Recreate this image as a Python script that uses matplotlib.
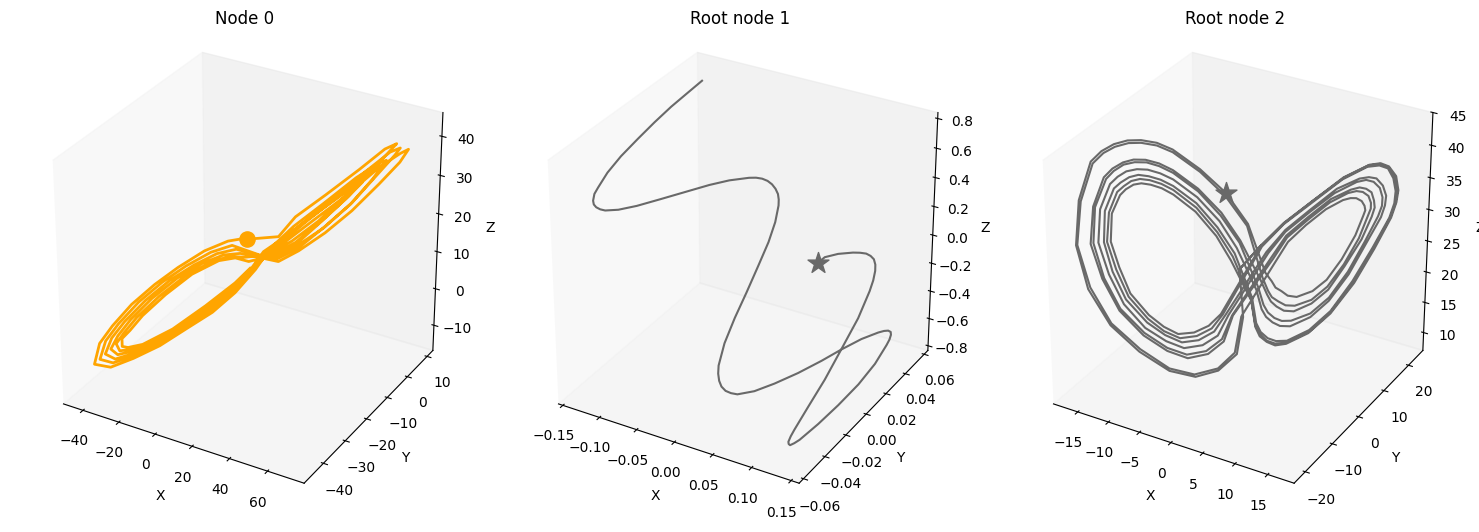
#!/usr/bin/env python
"""Three 3D trajectory panels: Node 0, Root node 1, Root node 2."""
import matplotlib
matplotlib.use("Agg")
import matplotlib.pyplot as plt

# ---- Node 0 ----
node0_x = [
    13.6, 8.1, -2.8, -14.9, -25.8, -31.2, -33.4, -33.4, -30.4, -25.6, -17.1, -7.5, 2.2, 8.3, 13.1,
    20.3, 29.9, 39.5, 48.1, 54.0, 46.8, 36.0, 26.3, 18.4,
    14.0, 8.1, -2.3, -13.9, -24.6, -30.8, -34.3, -35.5, -32.6, -27.8, -19.6, -10.2, -0.7, 6.1, 11.6,
    19.7, 28.7, 38.3, 48.1, 56.5, 60.1, 55.3, 45.6, 34.7, 25.1, 17.8,
    14.4, 8.1, -1.8, -12.9, -23.3, -30.5, -35.1, -37.5, -34.8, -30.0, -22.1, -12.9, -3.7, 3.9, 10.0,
    23.9, 31.2, 40.8, 50.4, 60.1, 67.4, 70.4, 67.4, 60.1, 48.1, 36.0, 26.3, 19.1,
    14.7, 8.1, -1.3, -12.0, -22.1, -30.1, -36.0, -39.6, -37.1, -32.2, -24.5, -15.6, -6.6, 1.6, 8.6,
    22.7, 31.2, 40.8, 50.4, 60.1, 65.5, 67.4, 63.8, 55.3, 43.2, 31.2, 22.7, 16.6,
    15.1, 8.1, -0.8, -11.0, -20.8, -29.8, -36.9, -41.6, -39.3, -34.4, -27.0, -18.3, -9.6, -0.6, 7.1,
    21.5, 30.5, 40.2, 49.8, 57.7, 62.5, 59.5, 51.7, 40.2, 29.3, 20.9,
    15.5, 8.1, -0.3, -10.0, -19.6, -29.4, -37.8, -43.7, -41.5, -36.6, -29.5, -21.0, -12.5, -2.9, 5.6, 13.0,
    15.4, 23.9, 29.9, 40.8, 52.9, 61.9, 66.1, 64.4, 59.0, 49.2, 39.5, 29.9, 20.9,
]
node0_y = [
    -18.0, -20.2, -24.5, -29.3, -33.8, -35.9, -36.7, -36.7, -35.5, -33.7, -30.3, -26.4, -22.5, -20.2, -18.2,
    -15.2, -11.4, -7.6, -4.1, -1.8, -4.6, -9.0, -12.9, -16.0,
    -17.8, -20.2, -24.3, -28.9, -33.3, -35.7, -37.1, -37.6, -36.4, -34.5, -31.3, -27.4, -23.7, -21.0, -18.8,
    -15.5, -11.9, -8.1, -4.1, -0.8, 0.6, -1.3, -5.1, -9.6, -13.4, -16.2,
    -17.6, -20.2, -24.1, -28.5, -32.8, -35.6, -37.4, -38.4, -37.3, -35.4, -32.3, -28.5, -24.9, -21.9, -19.4,
    -13.9, -10.9, -7.1, -3.2, 0.6, 3.6, 4.8, 3.6, 0.6, -4.1, -9.0, -12.9, -15.7,
    -17.5, -20.2, -23.9, -28.2, -32.3, -35.4, -37.8, -39.2, -38.2, -36.3, -33.2, -29.6, -26.1, -22.8, -20.0,
    -14.3, -10.9, -7.1, -3.2, 0.6, 2.8, 3.6, 2.1, -1.3, -6.1, -10.9, -14.3, -16.7,
    -17.4, -20.2, -23.7, -27.8, -31.8, -35.3, -38.1, -40.0, -39.1, -37.2, -34.2, -30.7, -27.3, -23.7, -20.6,
    -14.8, -11.2, -7.3, -3.5, -0.3, 1.6, 0.4, -2.7, -7.3, -11.7, -15.0,
    -17.2, -20.2, -23.5, -27.4, -31.3, -35.1, -38.5, -40.8, -40.0, -38.1, -35.2, -31.8, -28.4, -24.6, -21.2, -18.2,
    -17.2, -13.9, -11.4, -7.1, -2.3, 1.3, 3.0, 2.3, 0.2, -3.7, -7.6, -11.4, -15.0,
]
node0_z = [
    12.3, 8.8, 3.4, -2.0, -5.3, -5.8, -5.4, -3.3, -1.3, 2.4, 7.4, 12.1, 15.0, 15.4, 14.1,
    14.9, 17.9, 23.0, 28.1, 32.0, 29.3, 24.4, 19.7, 16.3,
    12.2, 8.3, 3.0, -2.1, -5.5, -6.4, -6.5, -4.5, -1.8, 2.0, 7.0, 11.7, 14.8, 15.9, 15.3,
    15.4, 18.4, 23.0, 29.0, 34.4, 36.0, 34.1, 29.0, 23.6, 18.5, 15.5,
    12.1, 7.8, 2.6, -2.1, -5.6, -7.0, -7.5, -5.8, -2.4, 1.6, 6.7, 11.4, 14.7, 16.4, 16.4,
    13.4, 15.7, 19.8, 24.9, 31.2, 36.3, 39.4, 38.5, 35.5, 28.9, 23.1, 18.4, 15.0,
    12.0, 7.2, 2.3, -2.2, -5.8, -7.7, -8.6, -7.0, -2.9, 1.2, 6.3, 11.0, 14.5, 16.9, 17.6,
    13.9, 16.5, 21.5, 27.0, 34.2, 38.2, 39.9, 39.1, 34.8, 28.3, 22.1, 17.8, 14.3,
    11.9, 6.7, 1.9, -2.2, -5.9, -8.3, -9.6, -8.3, -3.5, 0.8, 6.0, 10.7, 14.4, 17.4, 18.7,
    14.1, 17.0, 21.1, 26.6, 32.6, 37.1, 36.4, 33.3, 27.5, 22.2, 17.0,
    11.8, 6.2, 1.5, -2.3, -6.1, -8.9, -10.7, -9.5, -4.0, 0.4, 5.6, 10.3, 14.2, 17.9, 19.9, 20.3,
    19.9, 19.9, 24.6, 29.6, 35.4, 40.0, 41.1, 39.9, 36.0, 28.8, 22.9, 17.3, 14.5,
]
node0_start = (12.6, -18.4, 19.9)

# ---- Root node 1 ----
root1_x = [
    -0.1110, -0.1201, -0.1306, -0.1405, -0.1499, -0.1592, -0.1655, -0.1685, -0.1695, -0.1678, -0.1655, -0.1620,
    -0.1572, -0.1519, -0.1393, -0.1230, -0.1030, -0.0802, -0.0604, -0.0428, -0.0244, -0.0176, -0.0112, -0.0050,
    0.0007, 0.0060, 0.0105, 0.0135, 0.0158, 0.0192, 0.0206, 0.0201, 0.0194, 0.0181, 0.0183, 0.0214, 0.0243,
    0.0280, 0.0326, 0.0382, 0.0443, 0.0509, 0.0660, 0.0824, 0.1010, 0.1190, 0.1339, 0.1492, 0.1629, 0.1680,
    0.1719, 0.1747, 0.1761, 0.1765, 0.1758, 0.1718, 0.1636, 0.1522, 0.1400, 0.1283, 0.1245, 0.1212, 0.1194,
    0.1183, 0.1185, 0.1195, 0.1238, 0.1294, 0.1337, 0.1379, 0.1386, 0.1378, 0.1361, 0.1337, 0.1303, 0.1258,
    0.1206, 0.1142, 0.1073, 0.0933, 0.0816, 0.0767,
]
root1_y = [
    0.0379, 0.0310, 0.0230, 0.0146, 0.0059, -0.0031, -0.0110, -0.0174, -0.0200, -0.0223, -0.0232, -0.0234,
    -0.0231, -0.0222, -0.0189, -0.0134, -0.0061, 0.0023, 0.0097, 0.0157, 0.0211, 0.0228, 0.0240, 0.0246,
    0.0247, 0.0242, 0.0233, 0.0219, 0.0201, 0.0146, 0.0074, -0.0016, -0.0120, -0.0218, -0.0313, -0.0388, -0.0412,
    -0.0429, -0.0440, -0.0442, -0.0436, -0.0424, -0.0376, -0.0308, -0.0224, -0.0136, -0.0057, 0.0018, 0.0075, 0.0093,
    0.0104, 0.0107, 0.0099, 0.0082, 0.0060, -0.0020, -0.0115, -0.0220, -0.0319, -0.0405, -0.0427, -0.0441, -0.0441,
    -0.0436, -0.0416, -0.0389, -0.0295, -0.0181, -0.0055, 0.0069, 0.0172, 0.0212, 0.0243, 0.0262, 0.0273, 0.0275,
    0.0271, 0.0259, 0.0243, 0.0204, 0.0163, 0.0134,
]
root1_z = [
    0.845, 0.790, 0.726, 0.655, 0.580, 0.501, 0.427, 0.359, 0.330, 0.300, 0.283, 0.270,
    0.261, 0.255, 0.258, 0.274, 0.303, 0.337, 0.366, 0.386, 0.397, 0.397, 0.392, 0.382,
    0.366, 0.346, 0.322, 0.297, 0.270, 0.195, 0.105, 0.000, -0.119, -0.232, -0.343, -0.441, -0.476,
    -0.508, -0.533, -0.552, -0.562, -0.568, -0.555, -0.523, -0.478, -0.425, -0.376, -0.331, -0.303, -0.296,
    -0.295, -0.302, -0.314, -0.335, -0.359, -0.441, -0.531, -0.620, -0.702, -0.769, -0.783, -0.792, -0.787,
    -0.777, -0.753, -0.724, -0.627, -0.508, -0.373, -0.239, -0.119, -0.072, -0.029, -0.002, 0.023, 0.038,
    0.049, 0.053, 0.054, 0.049, 0.035, 0.007,
]
root1_star = (0.0767, 0.0134, 0.007)

# ---- Root node 2 ----
root2_x = [
    2.1, -0.2,
    0.2, -0.5, -2.5, -5.0, -7.8, -11.0, -14.0, -16.2, -17.3, -16.9, -15.5, -14.4, -13.1, -11.7, -10.3, -8.7, -7.1, -4.3, -1.6, 0.7,
    2.6, 3.3, 3.7, 4.3, 5.0, 6.0, 7.7, 9.2, 10.8, 12.2, 13.0, 13.2, 13.1, 12.8, 12.2, 11.6, 10.8, 9.0, 6.9, 5.0, 3.6,
    0.0, -0.7, -2.5, -5.1, -7.8, -10.9, -13.9, -16.0, -17.2, -16.7, -15.3, -14.2, -13.0, -11.6, -10.3, -8.7, -7.1, -4.3, -1.7, 0.6,
    2.3, 2.9, 3.3, 4.0, 4.8, 5.8, 7.6, 9.3, 11.0, 12.6, 13.5, 13.8, 13.8, 13.5, 12.9, 12.2, 11.3, 9.4, 7.1, 4.9, 3.4,
    -0.9, -1.9, -3.6, -5.8, -8.0, -10.5, -13.0, -14.7, -15.8, -15.4, -14.2, -13.3, -12.2, -11.1, -9.9, -8.5, -7.1, -4.5, -2.1, -0.1,
    2.1, 2.8, 3.2, 3.8, 4.6, 5.7, 7.6, 9.4, 11.1, 12.9, 13.9, 14.2, 14.1, 13.8, 13.2, 12.5, 11.6, 9.5, 7.1, 4.8, 3.2,
    -1.0, -2.1, -3.8, -5.9, -8.0, -10.4, -12.9, -14.5, -15.5, -15.2, -14.0, -13.2, -12.2, -11.0, -9.8, -8.5, -7.1, -4.5, -2.2, -0.2,
    1.8, 2.4, 2.9, 3.6, 4.4, 5.4, 7.5, 9.5, 11.5, 13.2, 14.6, 15.0, 15.0, 14.7, 14.0, 13.2, 12.2, 9.9, 7.3, 4.7, 2.9,
    -1.4, -2.5, -4.2, -6.2, -8.1, -10.3, -12.5, -14.0, -15.0, -14.7, -13.6, -12.8, -11.9, -10.8, -9.7, -8.4, -7.1, -4.6, -2.3, -0.5,
    1.6, 2.2, 2.7, 3.4, 4.2, 5.3, 7.5, 9.5, 11.6, 13.4, 14.9, 15.3, 15.4, 15.0, 14.3, 13.5, 12.5, 10.1, 7.3, 4.7, 2.7,
    -1.7, -2.9, -4.6, -6.4, -8.2, -10.1, -12.3, -13.6, -14.4, -14.2, -13.2, -12.5, -11.6, -10.7, -9.6, -8.4, -7.1, -4.7, -2.5, -0.7,
    1.2, 1.6, 2.1, 2.9, 3.8, 5.0, 7.4, 9.7, 12.0, 14.1, 15.8, 16.3, 16.4, 16.1, 15.5, 14.6, 13.3, 10.7, 7.6, 4.5, 2.2,
    -2.0, -3.2, -4.8, -6.6, -8.3, -10.0, -12.0, -13.2, -14.1, -13.8, -12.9, -12.2, -11.4, -10.5, -9.5, -8.3, -7.1, -4.7, -2.5, -0.9,
    1.1, 1.5, 2.0, 2.8, 3.7, 4.9, 7.4, 9.7, 12.1, 14.2, 15.9, 16.4, 16.6, 16.3, 15.6, 14.6, 13.4, 10.8, 7.6, 4.5, 2.1,
    -2.2, -3.5, -5.1, -6.8, -8.3, -9.9, -11.8, -12.9, -13.7, -13.5, -12.6, -12.0, -11.2, -10.4, -9.4, -8.3, -7.1, -4.8, -2.6, -1.1,
    1.1, 1.5, 2.0, 2.8, 3.7, 4.9, 7.3, 9.7, 12.2, 14.3, 16.0, 16.5, 16.7, 16.4, 15.6, 14.7, 13.5, 10.8, 7.7, 4.5, 2.1, -0.2,
]
root2_y = [
    3.3, 0.8,
    1.2, 0.5, -1.8, -4.5, -7.6, -11.1, -14.4, -16.9, -18.1, -17.5, -16.1, -14.8, -13.4, -11.9, -10.4, -8.6, -6.8, -3.7, -0.8, 1.8,
    3.8, 4.5, 5.0, 5.8, 6.5, 7.5, 9.4, 11.1, 12.8, 14.4, 15.3, 15.5, 15.4, 15.0, 14.4, 13.7, 12.8, 10.8, 8.5, 6.4, 5.0,
    1.0, 0.2, -1.9, -4.6, -7.6, -11.0, -14.3, -16.6, -17.9, -17.3, -15.9, -14.6, -13.3, -11.8, -10.4, -8.6, -6.8, -3.7, -0.9, 1.7,
    3.5, 4.1, 4.6, 5.4, 6.2, 7.3, 9.3, 11.2, 13.2, 14.8, 15.8, 16.1, 16.1, 15.8, 15.1, 14.4, 13.4, 11.3, 8.7, 6.3, 4.7,
    0.0, -1.1, -3.0, -5.4, -7.8, -10.6, -13.3, -15.2, -16.4, -16.0, -14.7, -13.7, -12.5, -11.3, -9.9, -8.4, -6.8, -4.0, -1.3, 0.9,
    3.3, 4.0, 4.5, 5.2, 6.1, 7.2, 9.3, 11.3, 13.2, 15.1, 16.3, 16.6, 16.5, 16.2, 15.6, 14.8, 13.7, 11.4, 8.7, 6.2, 4.4,
    -0.1, -1.3, -3.2, -5.5, -7.8, -10.5, -13.2, -15.0, -16.1, -15.8, -14.4, -13.5, -12.3, -11.2, -9.8, -8.4, -6.8, -4.0, -1.4, 0.8,
    3.0, 3.6, 4.1, 4.9, 5.8, 6.9, 9.2, 11.4, 13.6, 15.6, 17.0, 17.4, 17.5, 17.1, 16.4, 15.5, 14.4, 11.8, 9.0, 6.1, 4.1,
    -0.5, -1.9, -3.6, -5.8, -7.9, -10.4, -12.8, -14.4, -15.5, -15.2, -14.0, -13.1, -12.1, -10.9, -9.7, -8.3, -6.8, -4.1, -1.5, 0.5,
    2.8, 3.4, 3.9, 4.7, 5.6, 6.8, 9.2, 11.4, 13.7, 15.7, 17.4, 17.8, 17.9, 17.5, 16.7, 15.8, 14.7, 12.1, 9.0, 6.1, 3.9,
    -0.9, -2.3, -4.1, -6.1, -8.0, -10.1, -12.5, -14.0, -14.9, -14.7, -13.6, -12.8, -11.8, -10.7, -9.6, -8.2, -6.8, -4.2, -1.8, 0.2,
    2.2, 2.8, 3.3, 4.1, 5.1, 6.4, 9.1, 11.6, 14.2, 16.5, 18.4, 18.9, 19.0, 18.7, 18.0, 16.9, 15.6, 12.7, 9.3, 6.0, 3.4,
    -1.2, -2.5, -4.3, -6.3, -8.2, -10.0, -12.2, -13.6, -14.5, -14.2, -13.2, -12.4, -11.6, -10.6, -9.5, -8.2, -6.8, -4.2, -1.9, 0.0,
    2.1, 2.7, 3.2, 4.0, 5.0, 6.3, 9.1, 11.6, 14.3, 16.6, 18.5, 19.1, 19.2, 18.9, 18.0, 17.0, 15.7, 12.8, 9.3, 6.0, 3.3,
    -1.4, -2.9, -4.6, -6.5, -8.2, -9.9, -12.0, -13.2, -14.1, -13.9, -12.9, -12.2, -11.3, -10.4, -9.4, -8.1, -6.8, -4.3, -2.0, -0.2,
    2.1, 2.7, 3.2, 4.0, 5.0, 6.3, 9.0, 11.6, 14.4, 16.7, 18.6, 19.2, 19.3, 19.0, 18.1, 17.1, 15.8, 12.8, 9.4, 6.0, 3.3, 0.8,
]
root2_z = [
    28.0, 24.5,
    16.8, 10.8, 8.4, 7.7, 9.1, 12.7, 17.4, 23.5, 30.5, 37.3, 43.0, 44.4, 45.3, 45.7, 45.6, 45.0, 43.8, 40.5, 36.6, 31.5,
    23.6, 22.2, 21.1, 20.4, 19.6, 19.3, 20.0, 21.6, 24.7, 28.3, 31.3, 32.1, 32.8, 33.6, 34.1, 34.2, 34.0, 32.8, 30.6, 28.2, 25.1,
    16.9, 11.1, 8.8, 8.1, 9.5, 13.1, 17.7, 23.7, 30.5, 37.1, 42.7, 44.1, 44.9, 45.3, 45.2, 44.6, 43.4, 40.1, 36.2, 31.2,
    22.8, 20.7, 19.6, 18.8, 18.1, 17.9, 18.6, 20.5, 23.8, 27.8, 31.2, 32.3, 33.2, 34.3, 35.0, 35.2, 35.0, 33.8, 31.4, 28.9, 25.7,
    17.2, 13.1, 11.3, 10.9, 12.4, 15.3, 19.6, 24.9, 30.5, 36.2, 40.5, 41.7, 42.5, 42.8, 42.6, 41.9, 40.7, 37.6, 33.6, 29.0,
    22.4, 20.1, 18.9, 18.0, 17.2, 17.0, 18.0, 20.0, 23.5, 27.6, 31.0, 32.4, 33.5, 34.8, 35.4, 35.7, 35.5, 34.3, 31.8, 29.2, 25.9,
    17.2, 13.5, 11.8, 11.5, 12.9, 15.7, 19.9, 25.0, 30.6, 36.1, 40.2, 41.3, 42.1, 42.4, 42.2, 41.5, 40.3, 37.2, 33.2, 28.7,
    21.4, 18.5, 17.2, 16.2, 15.6, 15.5, 16.4, 18.7, 22.6, 27.1, 31.0, 32.6, 33.9, 35.4, 36.4, 36.8, 36.6, 35.2, 32.6, 29.8, 26.7,
    17.3, 14.2, 12.8, 12.6, 14.0, 16.5, 20.6, 25.5, 30.6, 35.7, 39.4, 40.4, 41.1, 41.3, 41.1, 40.4, 39.3, 36.3, 32.3, 27.9,
    21.0, 17.8, 16.5, 15.5, 14.8, 14.6, 15.8, 18.2, 22.2, 26.9, 30.8, 32.6, 34.1, 35.7, 36.9, 37.2, 37.1, 35.8, 32.9, 30.1, 26.9,
    17.4, 14.9, 13.7, 13.6, 15.0, 17.3, 21.3, 25.9, 30.6, 35.4, 38.7, 39.5, 40.2, 40.4, 40.1, 39.4, 38.3, 35.4, 31.4, 27.1,
    19.8, 15.6, 14.1, 13.0, 12.4, 12.3, 13.7, 16.5, 21.0, 26.1, 30.6, 32.8, 34.7, 36.7, 38.3, 38.9, 38.8, 37.2, 34.1, 31.0, 27.8,
    17.5, 15.4, 14.4, 14.3, 15.7, 17.9, 21.7, 26.2, 30.6, 35.1, 38.1, 38.9, 39.6, 39.8, 39.5, 38.8, 37.7, 34.7, 30.7, 26.6,
    19.5, 15.3, 13.8, 12.6, 12.0, 12.0, 13.4, 16.3, 20.8, 26.0, 30.6, 32.8, 34.7, 36.8, 38.5, 39.1, 39.0, 37.4, 34.3, 31.1, 27.9,
    17.6, 15.9, 15.0, 15.0, 16.4, 18.5, 22.2, 26.5, 30.6, 34.9, 37.6, 38.4, 39.0, 39.1, 38.8, 38.1, 37.0, 34.1, 30.1, 26.0,
    19.4, 15.0, 13.4, 12.4, 11.7, 11.8, 13.2, 16.1, 20.7, 25.9, 30.6, 32.9, 34.8, 37.0, 38.6, 39.2, 39.1, 37.5, 34.4, 31.2, 28.0, 24.5,
]
root2_star = (-1.6, -0.8, 36.6)

titles = ["Node 0", "Root node 1", "Root node 2"]
xticks = [[-40, -20, 0, 20, 40, 60],
          [-0.15, -0.10, -0.05, 0.00, 0.05, 0.10, 0.15],
          [-15, -10, -5, 0, 5, 10, 15]]
yticks = [[-40, -30, -20, -10, 0, 10],
          [-0.06, -0.04, -0.02, 0.00, 0.02, 0.04, 0.06],
          [-20, -10, 0, 10, 20]]
zticks = [[-10, 0, 10, 20, 30, 40],
          [-0.8, -0.6, -0.4, -0.2, 0.0, 0.2, 0.4, 0.6, 0.8],
          [10, 15, 20, 25, 30, 35, 40, 45]]
xlims = [(-51, 79), (-0.156, 0.160), (-19, 19)]
ylims = [(-48.6, 13), (-0.064, 0.064), (-24, 26)]
zlims = [(-17, 46), (-0.835, 0.84), (7, 45)]

W, H = 1479, 532
fig = plt.figure(figsize=(W / 100, H / 100), dpi=100)

series = [(node0_x, node0_y, node0_z, "orange", 2.0, node0_start, "o"),
          (root1_x, root1_y, root1_z, "dimgray", 1.5, root1_star, "*"),
          (root2_x, root2_y, root2_z, "dimgray", 1.5, root2_star, "*")]

for i, (xs, ys, zs, color, lw, mark, marker) in enumerate(series):
    ax = fig.add_axes([(11.5 + 495 * i) / W, (H - 499.5) / H, 467 / W, 467 / H], projection="3d")
    ax.set_box_aspect((1, 1, 1))
    ax.plot(xs, ys, zs, color=color, lw=lw)
    ax.scatter(*[[v] for v in mark], color=color, marker=marker,
               s=120 if marker == "o" else 250, depthshade=False)
    ax.set_xlim(*xlims[i], view_margin=0)
    ax.set_ylim(*ylims[i], view_margin=0)
    ax.set_zlim(*zlims[i], view_margin=0)
    ax.set_xticks(xticks[i])
    ax.set_yticks(yticks[i])
    ax.set_zticks(zticks[i])
    ax.set_xlabel("X")
    ax.set_ylabel("Y")
    ax.set_zlabel("Z")
    ax.set_title(titles[i])
    ax.grid(False)

fig.savefig("out.png", dpi=100)
